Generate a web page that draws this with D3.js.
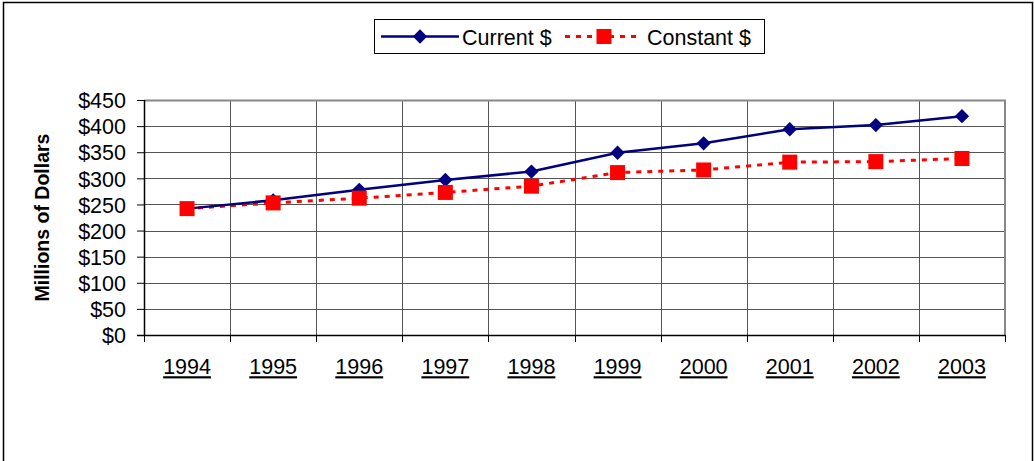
<!DOCTYPE html>
<html>
<head>
<meta charset="utf-8">
<script src="https://cdn.jsdelivr.net/npm/d3@7/dist/d3.min.js"></script>
<style>
	body { margin: 0; background: #fff; }
	svg text { font-family: "Liberation Sans", Arial, sans-serif; fill: #000; }
	.axis path, .axis line { stroke: #000; }
	.grid line { stroke: #555; stroke-width: 1; }
</style>
</head>
<body>
<div id="chart"></div>
<script>
var years = ["1994", "1995", "1996", "1997", "1998", "1999", "2000", "2001", "2002", "2003"];
var currentDollars = [242, 258, 278, 297, 313, 349, 367, 394, 402, 419];
var constantDollars = [242, 253, 262, 273, 285, 311, 316, 331, 332, 338];
var yTicks = [0, 50, 100, 150, 200, 250, 300, 350, 400, 450];

var options = {
	container: { width: 1034, height: 461 },
	margin: { top: 100, right: 29, bottom: 126, left: 144 }
};

var width = options.container.width - options.margin.left - options.margin.right,
	height = options.container.height - options.margin.top - options.margin.bottom;

var svg = d3.select("#chart").append("svg")
	.attr("width", options.container.width)
	.attr("height", options.container.height);

// outer frame
svg.append("rect")
	.attr("x", 3.5).attr("y", 2.5)
	.attr("width", 1029).attr("height", 470)
	.attr("fill", "none").attr("stroke", "#000").attr("stroke-width", 1.5);

var g = svg.append("g")
	.attr("transform", "translate(" + options.margin.left + "," + options.margin.top + ")");

var x = d3.scaleBand().domain(years).range([0, width]);
var y = d3.scaleLinear().domain([0, 450]).range([height, 0]);

// horizontal grid
g.append("g")
	.attr("class", "grid")
	.selectAll("line")
	.data(yTicks.slice(1))
	.enter().append("line")
	.attr("x1", 0).attr("x2", width)
	.attr("y1", function(d) { return Math.round(y(d)) + 0.5; })
	.attr("y2", function(d) { return Math.round(y(d)) + 0.5; });

// vertical grid
g.append("g")
	.attr("class", "grid")
	.selectAll("line")
	.data(years.slice(1))
	.enter().append("line")
	.attr("x1", function(d) { return Math.round(x(d)) + 0.5; })
	.attr("x2", function(d) { return Math.round(x(d)) + 0.5; })
	.attr("y1", 0).attr("y2", height);

// top and right plot border
g.append("path")
	.attr("d", "M0,0.5H" + width + "V" + height)
	.attr("fill", "none").attr("stroke", "#888").attr("stroke-width", 2);

// y axis
var yAxis = g.append("g")
	.attr("class", "axis axis--y")
	.call(d3.axisLeft(y).tickValues(yTicks).tickSize(7).tickPadding(11)
		.tickFormat(function(d) { return "$" + d; }));
yAxis.select(".domain").attr("d", "M0.5," + height + "V0").attr("stroke-width", 1.5);
yAxis.selectAll("text").style("font-size", "21.5px").attr("dy", "0.36em");

// x axis
var xAxis = g.append("g")
	.attr("class", "axis axis--x")
	.attr("transform", "translate(0," + height + ")")
	.call(d3.axisBottom(x).tickSize(0).tickPadding(24));
xAxis.select(".domain").attr("d", "M-7,0.5H" + width).attr("stroke-width", 1.5);
xAxis.selectAll("text")
	.style("font-size", "21.5px")
	.style("text-decoration", "underline");

// x tick marks at band boundaries
xAxis.append("g")
	.selectAll("line")
	.data(years.concat(["end"]))
	.enter().append("line")
	.attr("x1", function(d, i) { return Math.round(i * x.bandwidth()) + 0.5; })
	.attr("x2", function(d, i) { return Math.round(i * x.bandwidth()) + 0.5; })
	.attr("y1", 0).attr("y2", 7)
	.attr("stroke", "#000");

// y label
g.append("text")
	.attr("transform", "translate(" + (-102) + "," + (height / 2) + ") rotate(-90)")
	.attr("text-anchor", "middle")
	.attr("dy", "0.35em")
	.style("font-size", "19.5px")
	.style("font-weight", "bold")
	.text("Millions of Dollars");

var cx = function(d, i) { return x(years[i]) + x.bandwidth() / 2; };

var line = d3.line()
	.x(cx)
	.y(function(d) { return y(d); });

// constant $ series
g.append("path")
	.datum(constantDollars)
	.attr("d", line)
	.attr("fill", "none")
	.attr("stroke", "#ff0000")
	.attr("stroke-width", 3)
	.attr("stroke-dasharray", "5,6");

// current $ series
g.append("path")
	.datum(currentDollars)
	.attr("d", line)
	.attr("fill", "none")
	.attr("stroke", "#000080")
	.attr("stroke-width", 2.5);

var diamond = d3.symbol().type(d3.symbolDiamond2).size(130);

g.selectAll(".dot-current")
	.data(currentDollars)
	.enter().append("path")
	.attr("class", "dot-current")
	.attr("transform", function(d, i) { return "translate(" + cx(d, i) + "," + y(d) + ")"; })
	.attr("d", diamond)
	.attr("fill", "#000080");

g.selectAll(".dot-constant")
	.data(constantDollars)
	.enter().append("rect")
	.attr("class", "dot-constant")
	.attr("x", function(d, i) { return cx(d, i) - 7.5; })
	.attr("y", function(d) { return y(d) - 7.5; })
	.attr("width", 15).attr("height", 15)
	.attr("fill", "#ff0000");

// legend
var legend = svg.append("g").attr("transform", "translate(374,19)");
legend.append("rect")
	.attr("x", 0.5).attr("y", 0.5)
	.attr("width", 390).attr("height", 34)
	.attr("fill", "#fff").attr("stroke", "#000").attr("stroke-width", 1);

legend.append("line")
	.attr("x1", 7).attr("x2", 85).attr("y1", 17.5).attr("y2", 17.5)
	.attr("stroke", "#000080").attr("stroke-width", 2.5);
legend.append("path")
	.attr("transform", "translate(46,17.5)")
	.attr("d", diamond)
	.attr("fill", "#000080");
legend.append("text")
	.attr("x", 88).attr("y", 18).attr("dy", "0.36em")
	.style("font-size", "21.5px")
	.text("Current $");

legend.append("line")
	.attr("x1", 191).attr("x2", 264).attr("y1", 17.5).attr("y2", 17.5)
	.attr("stroke", "#ff0000").attr("stroke-width", 3)
	.attr("stroke-dasharray", "5,6");
legend.append("rect")
	.attr("x", 230 - 7.5).attr("y", 17.5 - 7.5)
	.attr("width", 15).attr("height", 15)
	.attr("fill", "#ff0000");
legend.append("text")
	.attr("x", 273).attr("y", 18).attr("dy", "0.36em")
	.style("font-size", "21.5px")
	.text("Constant $");
</script>
</body>
</html>
